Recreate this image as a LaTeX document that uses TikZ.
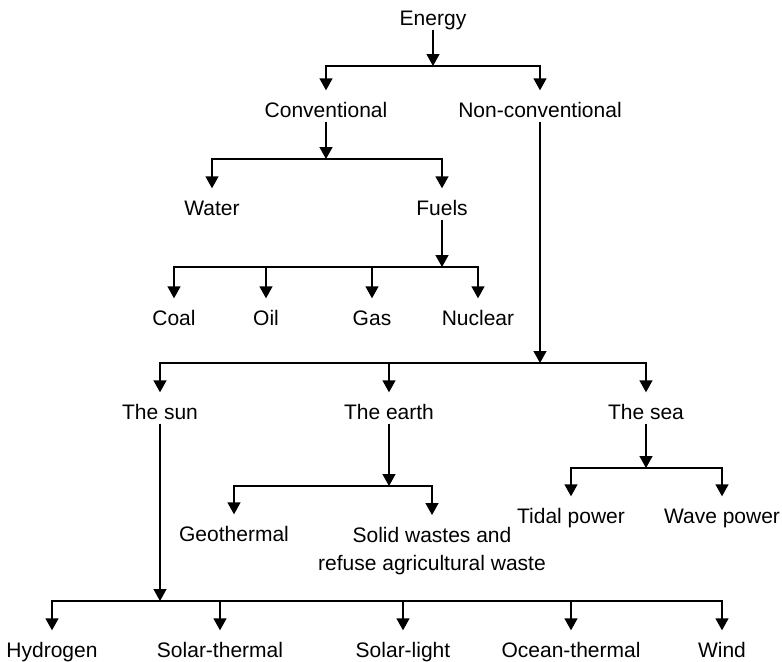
\documentclass[tikz,border=0pt]{standalone}
\usepackage{fontspec}
\setmainfont{Liberation Sans}
\usetikzlibrary{arrows.meta}

\tikzset{
  label text/.style={font=\fontsize{10.5}{14}\selectfont, text height=7.5pt, text depth=0pt, inner xsep=1pt, inner ysep=1.75pt},
  stem/.style={->},
  branch/.style={->, shorten >=4pt}
}

\begin{document}
\begin{tikzpicture}[x=0.5pt, y=-0.5pt, line width=0.7pt, every node/.style={label text}, >={Triangle[length=6pt,width=6.5pt]}]
	\useasboundingbox (0,0) rectangle (782,661);
	\node (energy) at (433,18) {Energy};
	\node (conv) at (326,110) {Conventional};
	\node (nonconv) at (540,110) {Non-conventional};
	\node (water) at (212,208) {Water};
	\node (fuels) at (442,208) {Fuels};
	\node (coal) at (174,318) {Coal};
	\node (oil) at (266,318) {Oil};
	\node (gas) at (372,318) {Gas};
	\node (nuclear) at (478,318) {Nuclear};
	\node (sun) at (160,412) {The sun};
	\node (earth) at (389,412) {The earth};
	\node (sea) at (646,412) {The sea};
	\node (geo) at (234,534) {Geothermal};
	\node[anchor=north, align=center, text height={}, text depth={}] (solid) at (432,523) {Solid wastes and\\refuse agricultural waste};
	\node (tidal) at (571,516) {Tidal power};
	\node (wave) at (722,516) {Wave power};
	\node (hydrogen) at (52,650) {Hydrogen};
	\node (solarth) at (220,650) {Solar-thermal};
	\node (solarli) at (403,650) {Solar-light};
	\node (oceanth) at (571,650) {Ocean-thermal};
	\node (wind) at (722,650) {Wind};
	\coordinate (b1) at (433,66);
	\coordinate (b2) at (326,159);
	\coordinate (b3) at (442,267);
	\coordinate (b4) at (540,363);
	\coordinate (b5) at (389,486);
	\coordinate (b6) at (646,468);
	\coordinate (b7) at (160,601);
	\draw[stem] (energy) -- (b1);
	\draw[branch] (b1) -| (conv);
	\draw[branch] (b1) -| (nonconv);
	\draw[stem] (conv) -- (b2);
	\draw[branch] (b2) -| (water);
	\draw[branch] (b2) -| (fuels);
	\draw[stem] (fuels) -- (b3);
	\foreach \leaf in {coal, oil, gas, nuclear}
		\draw[branch] (b3) -| (\leaf);
	\draw[stem] (nonconv) -- (b4);
	\foreach \leaf in {sun, earth, sea}
		\draw[branch] (b4) -| (\leaf);
	\draw[stem] (earth) -- (b5);
	\draw[branch] (b5) -| (geo);
	\draw[branch] (b5) -| (solid);
	\draw[stem] (sea) -- (b6);
	\draw[branch] (b6) -| (tidal);
	\draw[branch] (b6) -| (wave);
	\draw[stem] (sun) -- (b7);
	\foreach \leaf in {hydrogen, solarth, solarli, oceanth, wind}
		\draw[branch] (b7) -| (\leaf);
\end{tikzpicture}
\end{document}
